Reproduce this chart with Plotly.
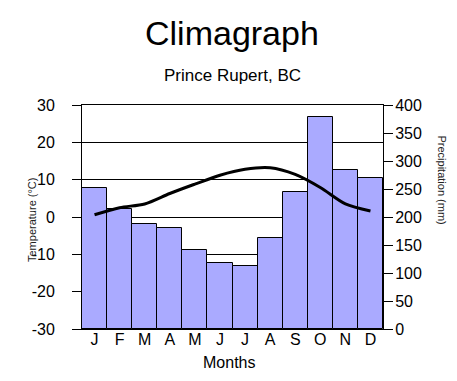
import plotly.graph_objects as go

months = ["J", "F", "M", "A", "M", "J", "J", "A", "S", "O", "N", "D"]
month_keys = [f"{m}{i}" for i, m in enumerate(months)]
precip_mm = [252, 214, 188, 180, 141, 118, 113, 162, 245, 379, 284, 269]
temp_c = [0.6, 2.5, 3.5, 6.3, 8.8, 11.2, 12.8, 13.2, 11.4, 7.9, 3.5, 1.6]
temp_ticks = [-30, -20, -10, 0, 10, 20, 30]
temp_tick_text = ["-30", "-20", "-10", "0", "10", "20", "30"]
precip_ticks = [0, 50, 100, 150, 200, 250, 300, 350, 400]

FONT = "Arial, Liberation Sans, sans-serif"
W, H = 457, 381
L, R, T, B = 74, 82, 97, 60
pw, ph = W - L - R, H - T - B

def px(x):
    return (x - L) / pw

def py(y):
    return (H - B - y) / ph

fig = go.Figure()
fig.add_trace(go.Bar(
    x=month_keys, y=precip_mm, yaxis="y",
    marker=dict(color="#AAAAFF", line=dict(color="black", width=1)),
    showlegend=False,
))
fig.add_trace(go.Scatter(
    x=month_keys, y=temp_c, yaxis="y2", mode="lines",
    line=dict(color="black", width=3, shape="spline", smoothing=0.8),
    showlegend=False,
))

fig.update_layout(
    width=W, height=H,
    margin=dict(l=L, r=R, t=T, b=B),
    paper_bgcolor="white", plot_bgcolor="white",
    bargap=0,
    font=dict(family=FONT, color="black"),
    xaxis=dict(
        type="category", tickvals=month_keys, ticktext=months,
        showline=True, mirror=True, linecolor="black", linewidth=1,
        ticks="", showgrid=False, tickfont=dict(size=16),
        ticklabelstandoff=-4, range=[-0.5, 11.5],
    ),
    yaxis=dict(
        side="right", range=[0, 400], tickvals=precip_ticks,
        showgrid=False, zeroline=False, showline=True, linecolor="black",
        ticks="outside", ticklen=9, tickcolor="black",
        tickfont=dict(size=16), ticklabelstandoff=-1,
    ),
    yaxis2=dict(
        overlaying="y", side="left", range=[-30, 30], tickvals=temp_ticks,
        ticktext=temp_tick_text,
        showgrid=True, gridcolor="black", gridwidth=1, zeroline=False,
        showline=True, linecolor="black",
        ticks="outside", ticklen=9, tickcolor="black",
        tickfont=dict(size=16), ticklabelstandoff=14,
    ),
    annotations=[
        dict(text="Climagraph", x=px(223.5), y=py(25), xref="paper", yref="paper",
             showarrow=False, xanchor="center", yanchor="middle",
             font=dict(size=34, family=FONT)),
        dict(text="Prince Rupert, BC", x=px(224.5), y=py(67), xref="paper", yref="paper",
             showarrow=False, xanchor="center", yanchor="middle",
             font=dict(size=17, family=FONT)),
        dict(text="Months", x=px(220.5), y=py(354), xref="paper", yref="paper",
             showarrow=False, xanchor="center", yanchor="middle",
             font=dict(size=16, family=FONT)),
        dict(text="Temperature (°C)", x=px(24), y=py(212), xref="paper", yref="paper",
             showarrow=False, xanchor="center", yanchor="middle", textangle=-90,
             font=dict(size=11, family=FONT, color="#222")),
        dict(text="Precipitation (mm)", x=px(434), y=py(171.5), xref="paper", yref="paper",
             showarrow=False, xanchor="center", yanchor="middle", textangle=90,
             font=dict(size=11, family=FONT, color="#222")),
    ],
)

fig.write_html("out.html")
